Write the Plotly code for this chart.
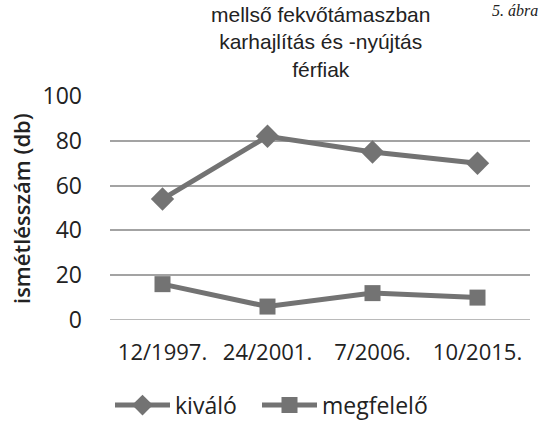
import plotly.graph_objects as go

categories = ["12/1997.", "24/2001.", "7/2006.", "10/2015."]
kivalo = [54, 82, 75, 70]
megfelelo = [16, 6, 12, 10]
title_lines = ["mellső fekvőtámaszban", "karhajlítás és -nyújtás", "férfiak"]
y_title = "ismétlésszám (db)"
y_ticks = [0, 20, 40, 60, 80, 100]

col = "#737373"
grid = "#a3a3a3"
txt = "#222222"
sans = "Open Sans, Lato"
fig = go.Figure()
fig.add_trace(go.Scatter(x=categories, y=kivalo, name="kiváló", mode="lines+markers",
                         line=dict(color=col, width=5), legend="legend",
                         marker=dict(symbol="diamond", size=18, color=col)))
fig.add_trace(go.Scatter(x=categories, y=megfelelo, name="megfelelő", mode="lines+markers",
                         line=dict(color=col, width=5), legend="legend2",
                         marker=dict(symbol="square", size=16, color=col)))

leg_common = dict(orientation="h", xanchor="left", y=-0.38, yanchor="middle",
                  font=dict(family=sans, size=23, color=txt), itemwidth=55)
fig.update_layout(
    width=540, height=424,
    margin=dict(l=110, r=10, t=96, b=104, autoexpand=False),
    plot_bgcolor="white", paper_bgcolor="white",
    showlegend=True,
    legend=dict(x=0.0, **leg_common),
    legend2=dict(x=0.35, **leg_common),
    annotations=[
        dict(text="<br>".join(title_lines), xref="paper", yref="paper", x=0.5, y=1.0,
             yshift=13, xanchor="center", yanchor="bottom", showarrow=False, align="center",
             font=dict(family="Liberation Sans, Arial", size=21, color=txt)),
        dict(text="<i>5. ábra</i>", xref="paper", yref="paper", x=1.0, y=1.0,
             xshift=10, yshift=96, xanchor="right", yanchor="top", showarrow=False,
             font=dict(family="Liberation Serif, Times New Roman", size=16, color=txt)),
        dict(text=y_title, xref="paper", yref="paper", x=0.0, y=0.5, xshift=-89,
             yshift=-1, xanchor="center", yanchor="middle", textangle=-90, showarrow=False,
             font=dict(family=sans, size=22, weight=600, color=txt)),
    ],
)
fig.update_xaxes(type="category", range=[-0.5, 3.5], showgrid=False, showline=False,
                 ticks="", ticklabelstandoff=17,
                 tickfont=dict(family=sans, size=22, color=txt))
fig.update_yaxes(range=[0, 100], tickvals=y_ticks, showgrid=True, gridcolor=grid,
                 gridwidth=1.5, zeroline=False, showline=False, ticks="",
                 ticklabelstandoff=27,
                 tickfont=dict(family=sans, size=23, color=txt))
fig.add_shape(type="line", xref="paper", yref="y", x0=0, x1=1, y0=0, y1=0,
              line=dict(color=grid, width=1.5), layer="below")
fig.write_html("out.html", config={"displayModeBar": False},
               post_script="document.body.style.margin='0';")
